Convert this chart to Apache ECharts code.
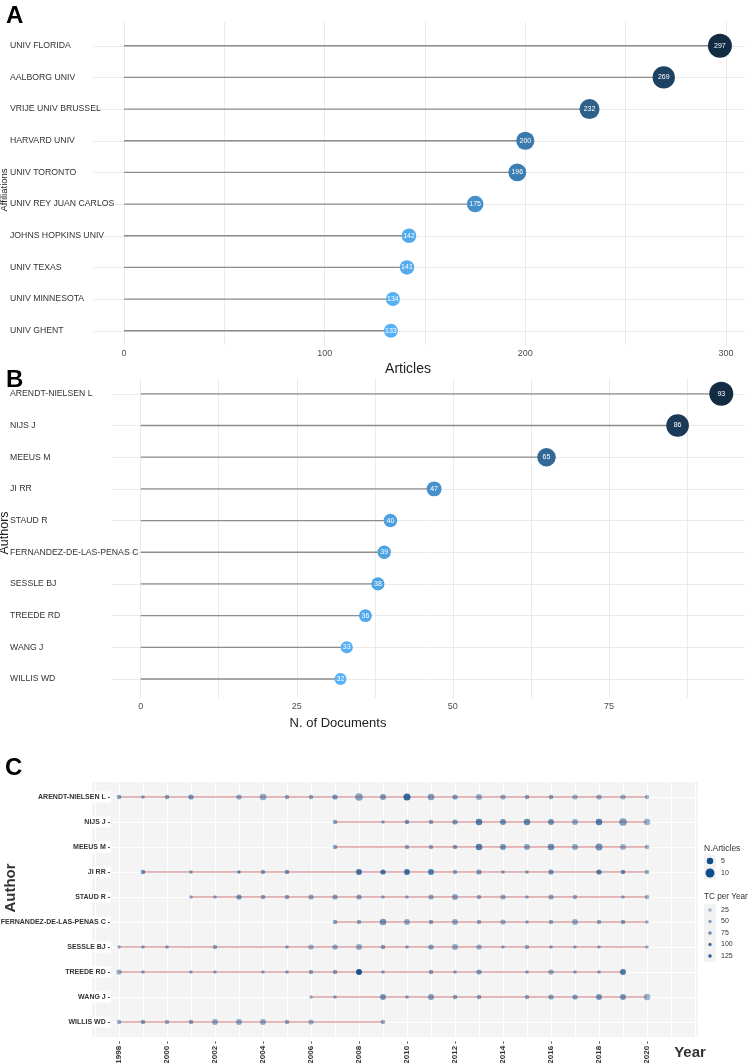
<!DOCTYPE html>
<html><head><meta charset="utf-8">
<script src="https://cdn.jsdelivr.net/npm/echarts@6/dist/echarts.min.js"></script>
<style>html,body{margin:0;padding:0;background:#fff}#c{width:748px;height:1063px}</style>
</head><body><div id="c"></div>
<script>
// Panel A
const affiliations = ['UNIV FLORIDA','AALBORG UNIV','VRIJE UNIV BRUSSEL','HARVARD UNIV','UNIV TORONTO','UNIV REY JUAN CARLOS','JOHNS HOPKINS UNIV','UNIV TEXAS','UNIV MINNESOTA','UNIV GHENT'];
const affArticles = [297,269,232,200,196,175,142,141,134,133];
const affTicks = [0,100,200,300];
const affGrid = [0,50,100,150,200,250,300];
// Panel B
const authorNames = ['ARENDT-NIELSEN L','NIJS J','MEEUS M','JI RR','STAUD R','FERNANDEZ-DE-LAS-PENAS C','SESSLE BJ','TREEDE RD','WANG J','WILLIS WD'];
const authorDocs = [93,86,65,47,40,39,38,36,33,32];
const docTicks = [0,25,50,75];
const docGrid = [0,12.5,25,37.5,50,62.5,75,87.5];
// Panel C (production over time)
const yearTicks = [1998,2000,2002,2004,2006,2008,2010,2012,2014,2016,2018,2020];
const yearGrid = [1997,1998,1999,2000,2001,2002,2003,2004,2005,2006,2007,2008,2009,2010,2011,2012,2013,2014,2015,2016,2017,2018,2019,2020,2021,2022];
const tlYears = [
 [1998,1999,2000,2001,2003,2004,2005,2006,2007,2008,2009,2010,2011,2012,2013,2014,2015,2016,2017,2018,2019,2020],
 [2007,2009,2010,2011,2012,2013,2014,2015,2016,2017,2018,2019,2020],
 [2007,2010,2011,2012,2013,2014,2015,2016,2017,2018,2019,2020],
 [1999,2001,2003,2004,2005,2008,2009,2010,2011,2012,2013,2014,2015,2016,2018,2019,2020],
 [2001,2002,2003,2004,2005,2006,2007,2008,2009,2010,2011,2012,2013,2014,2015,2016,2017,2019,2020],
 [2007,2008,2009,2010,2011,2012,2013,2014,2015,2016,2017,2018,2019,2020],
 [1998,1999,2000,2002,2005,2006,2007,2008,2009,2010,2011,2012,2013,2014,2015,2016,2017,2018,2020],
 [1998,1999,2001,2002,2004,2005,2006,2007,2008,2009,2011,2012,2013,2015,2016,2017,2018,2019],
 [2006,2007,2009,2010,2011,2012,2013,2015,2016,2017,2018,2019,2020],
 [1998,1999,2000,2001,2002,2003,2004,2005,2006,2009]
];
const tlArticles = [
 [2,1,2,3,3,5,2,2,3,7,4,6,5,3,4,3,2,2,3,3,3,2],
 [2,1,2,2,3,5,4,5,4,4,5,7,5],
 [2,2,2,2,5,4,4,5,4,6,4,2],
 [2,1,1,2,2,4,3,4,4,2,3,1,1,3,3,2,2],
 [1,1,3,2,2,3,3,3,1,1,3,4,2,3,1,3,2,1,2],
 [2,2,5,4,2,4,2,3,1,2,4,2,2,1],
 [1,1,1,2,1,3,3,4,2,1,3,4,3,1,2,1,1,1,1],
 [3,1,1,1,1,1,2,2,4,1,2,1,3,1,3,1,1,4],
 [1,1,4,1,4,2,2,2,3,3,4,4,5],
 [2,2,2,2,4,4,4,2,3,2]
];
const tlTC = [
 [45,45,45,55,40,40,40,40,55,45,55,110,50,50,35,35,45,45,30,35,30,25],
 [45,40,60,45,55,85,70,75,65,40,85,50,30],
 [45,40,40,50,85,60,45,65,40,60,30,30],
 [65,45,70,50,60,95,100,100,85,40,50,45,45,60,85,70,35],
 [40,40,60,45,45,40,45,45,40,35,40,45,40,35,40,40,35,40,30],
 [45,40,60,40,45,40,40,35,40,40,35,40,50,35],
 [35,40,45,40,40,30,40,35,45,40,45,35,35,35,35,40,35,35,30],
 [35,40,35,35,35,40,40,45,135,40,45,40,50,40,40,40,40,90],
 [30,40,60,40,50,45,45,40,45,50,60,60,30],
 [35,50,35,45,40,40,40,40,30,40]
];
const sizeLegend = [5,10];
const tcLegend = [25,50,75,100,125];

const SANS = "'Liberation Sans',Arial,sans-serif";
const idx = authorNames.map((_, i) => i);
const affIdx = affiliations.map((_, i) => i);
const tlSize = n => Math.sqrt(5 + 7.5 * n);
const tlAlpha = t => 0.25 + 0.75 * Math.min(t, 140) / 140;

const stemRender = (params, api) => {
  const p0 = api.coord([0, api.value(1)]);
  const p1 = api.coord([api.value(0), api.value(1)]);
  return {type: 'line', shape: {x1: p0[0], y1: p0[1], x2: p1[0], y2: p1[1]},
    style: {stroke: '#8c8c8c', lineWidth: 1.3}};
};
const spanRender = (params, api) => {
  const p0 = api.coord([api.value(0), api.value(2)]);
  const p1 = api.coord([api.value(1), api.value(2)]);
  return {type: 'line', shape: {x1: p0[0], y1: p0[1], x2: p1[0], y2: p1[1]},
    style: {stroke: 'rgba(178,34,34,0.3)', lineWidth: 2}};
};

const tlPoints = [];
tlYears.forEach((ys, i) => ys.forEach((y, k) => {
  tlPoints.push({value: [y, i, tlArticles[i][k], tlTC[i][k]], itemStyle: {opacity: tlAlpha(tlTC[i][k])}});
}));
const tlSpans = tlYears.map((ys, i) => [Math.min(...ys), Math.max(...ys), i]);

const gridLine = {show: true, lineStyle: {color: '#ebebeb', width: 1}};
const noLine = {show: false};

const graphic = [];
const txt = (x, y, text, o) => graphic.push({type: 'text', x, y, rotation: o.rot || 0,
  style: {text, fontSize: o.size, fontFamily: o.family || SANS, fontWeight: o.weight || 'normal',
    fill: o.color || '#222', align: o.align || 'center', verticalAlign: 'middle'}});
txt(6, 16, 'A', {size: 24, weight: 'bold', align: 'left', color: '#000'});
txt(6, 380, 'B', {size: 24, weight: 'bold', align: 'left', color: '#000'});
txt(5, 768, 'C', {size: 24, weight: 'bold', align: 'left', color: '#000'});
txt(4.5, 190, 'Affiliations', {size: 9.5, rot: Math.PI / 2});
txt(408, 369, 'Articles', {size: 14});
txt(5, 533, 'Authors', {size: 12.5, rot: Math.PI / 2});
txt(338, 723, 'N. of Documents', {size: 13});
txt(11, 888, 'Author', {size: 15, weight: 'bold', rot: Math.PI / 2, color: '#333'});
txt(690, 1053, 'Year', {size: 15, weight: 'bold', color: '#333'});
// legends for panel C
txt(704, 849, 'N.Articles', {size: 8.5, align: 'left', color: '#333'});
sizeLegend.forEach((v, k) => {
  const cy = 861 + k * 12;
  graphic.push({type: 'rect', shape: {x: 704, y: cy - 6, width: 12, height: 12}, style: {fill: '#f2f2f2'}});
  graphic.push({type: 'circle', shape: {cx: 710, cy, r: tlSize(v) / 2}, style: {fill: '#104E8B'}});
  txt(721, cy, String(v), {size: 7, align: 'left', color: '#333'});
});
txt(704, 897, 'TC per Year', {size: 8.2, align: 'left', color: '#333'});
tcLegend.forEach((v, k) => {
  const cy = 910 + k * 11.5;
  graphic.push({type: 'rect', shape: {x: 704, y: cy - 5.75, width: 12, height: 11.5}, style: {fill: '#f2f2f2'}});
  graphic.push({type: 'circle', shape: {cx: 710, cy, r: 1.7}, style: {fill: '#104E8B', opacity: tlAlpha(v)}});
  txt(721, cy, String(v), {size: 7, align: 'left', color: '#333'});
});

const chart = echarts.init(document.getElementById('c'), null, {renderer: 'canvas'});
chart.setOption({
  animation: false,
  backgroundColor: '#fff',
  grid: [
    {left: 93, top: 22, width: 652, height: 323, containLabel: false, outerBoundsMode: 'none'},
    {left: 112, top: 378, width: 633, height: 320, containLabel: false, outerBoundsMode: 'none'},
    {left: 92, top: 782, width: 606, height: 255, show: true, backgroundColor: '#f4f4f4', borderWidth: 0,
     containLabel: false, outerBoundsMode: 'none'}
  ],
  xAxis: [
    {gridIndex: 0, type: 'value', min: -15.5, max: 309.5, axisLine: noLine,
     axisTick: {show: false, customValues: affGrid},
     axisLabel: {customValues: affTicks, fontSize: 9, color: '#4d4d4d', margin: 4, fontFamily: SANS},
     splitLine: gridLine},
    {gridIndex: 1, type: 'value', min: -4.6, max: 96.8, axisLine: noLine,
     axisTick: {show: false, customValues: docGrid},
     axisLabel: {customValues: docTicks, fontSize: 9, color: '#4d4d4d', margin: 4, fontFamily: SANS},
     splitLine: gridLine},
    {gridIndex: 2, type: 'value', min: 1996.875, max: 2022.125, axisLine: noLine,
     axisTick: {show: false, customValues: yearGrid},
     axisLabel: {customValues: yearTicks, rotate: 90, fontSize: 8, fontWeight: 'bold', color: '#333',
       margin: 3, fontFamily: SANS, formatter: v => v + ' -', backgroundColor: '#fff', padding: [2, 1]},
     splitLine: {show: true, lineStyle: {color: '#ffffff', width: 1}}}
  ],
  yAxis: [
    {gridIndex: 0, type: 'value', inverse: true, min: -0.75, max: 9.45, axisLine: noLine,
     axisTick: {show: false, customValues: affIdx},
     axisLabel: {customValues: affIdx, formatter: v => affiliations[Math.round(v)], align: 'left', margin: 83,
       fontSize: 8.7, color: '#333', fontFamily: SANS},
     splitLine: gridLine},
    {gridIndex: 1, type: 'value', inverse: true, min: -0.5, max: 9.6, axisLine: noLine,
     axisTick: {show: false, customValues: idx},
     axisLabel: {customValues: idx, formatter: v => authorNames[Math.round(v)], align: 'left', margin: 102,
       fontSize: 8.7, color: '#333', fontFamily: SANS},
     splitLine: gridLine},
    {gridIndex: 2, type: 'value', inverse: true, min: -0.6, max: 9.6, axisLine: noLine,
     axisTick: {show: false, customValues: idx},
     axisLabel: {customValues: idx, formatter: v => authorNames[Math.round(v)] + ' -', align: 'right', margin: -19,
       fontSize: 7, fontWeight: 'bold', color: '#333', fontFamily: SANS, backgroundColor: '#fff', padding: [2, 1]},
     splitLine: {show: true, lineStyle: {color: '#ffffff', width: 1}}}
  ],
  visualMap: [
    {show: false, seriesIndex: 1, dimension: 0, min: 133, max: 297, inRange: {color: ['#56B1F7', '#132B43']}},
    {show: false, seriesIndex: 3, dimension: 0, min: 32, max: 93, inRange: {color: ['#56B1F7', '#132B43']}}
  ],
  series: [
    {type: 'custom', xAxisIndex: 0, yAxisIndex: 0, renderItem: stemRender, silent: true,
     data: affArticles.map((v, i) => [v, i])},
    {type: 'scatter', xAxisIndex: 0, yAxisIndex: 0, data: affArticles.map((v, i) => [v, i]),
     symbolSize: d => 14 + (d[0] - 133) * 0.061, itemStyle: {opacity: 1},
     label: {show: true, position: 'inside', formatter: p => p.value[0], fontSize: 7, color: '#fff', fontFamily: SANS}},
    {type: 'custom', xAxisIndex: 1, yAxisIndex: 1, renderItem: stemRender, silent: true,
     data: authorDocs.map((v, i) => [v, i])},
    {type: 'scatter', xAxisIndex: 1, yAxisIndex: 1, data: authorDocs.map((v, i) => [v, i]),
     symbolSize: d => 12 + (d[0] - 32) * 0.197, itemStyle: {opacity: 1},
     label: {show: true, position: 'inside', formatter: p => p.value[0], fontSize: 7, color: '#fff', fontFamily: SANS}},
    {type: 'custom', xAxisIndex: 2, yAxisIndex: 2, renderItem: spanRender, silent: true, data: tlSpans},
    {type: 'scatter', xAxisIndex: 2, yAxisIndex: 2, data: tlPoints, symbolSize: d => tlSize(d[2]),
     itemStyle: {color: '#104E8B'}}
  ],
  graphic: graphic
});
</script>
</body></html>
